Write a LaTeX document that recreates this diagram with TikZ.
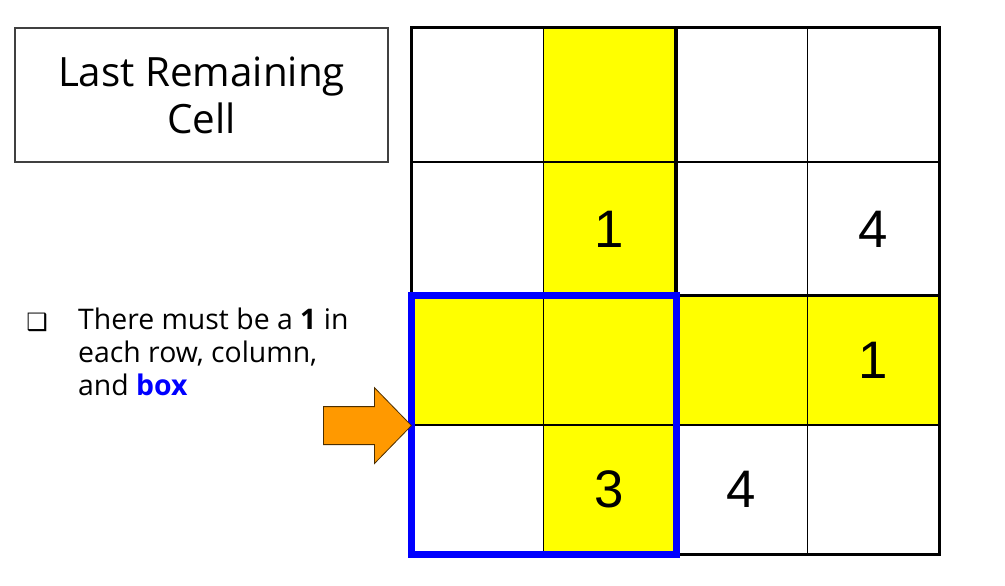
\documentclass[tikz,border=0pt]{standalone}
\usepackage{fontspec}
\setmainfont{Open Sans}
\newfontfamily\digitfont{Liberation Sans}
\newfontfamily\symfont{DejaVu Sans}
\usetikzlibrary{positioning}
\definecolor{cellyellow}{RGB}{255,255,0}
\definecolor{boxblue}{RGB}{0,0,255}
\definecolor{arroworange}{RGB}{255,153,0}

\begin{document}
\begin{tikzpicture}[
        x=1bp, y=-1bp,
        cell/.style={draw=black, line width=1.2bp, minimum width=131.75bp, inner sep=0pt},
        yel1/.style={fill=cellyellow},
        yel0/.style={},
        given/.style={inner sep=0pt, font=\digitfont\fontsize{53}{53}\selectfont},
        thickline/.style={line width=3.5bp, line cap=rect},
        titlebox/.style={draw=black!75, line width=1.1bp, minimum width=373bp, minimum height=134bp, align=center, font=\fontsize{40.5}{47}\selectfont},
        bullettext/.style={align=left, inner sep=0pt, font=\fontsize{28.5}{33}\selectfont},
        blockarrow/.style={fill=arroworange, draw=black!70!arroworange, line width=0.8bp}
    ]
        \useasboundingbox (0,0) rectangle (1005,586);

        % Cells (column 2 and row 3 in yellow)
        \foreach \r/\y/\h in {1/95/134, 2/229/134, 3/360.5/129, 4/489.5/129}
            \foreach \c in {1,...,4}{
                \pgfmathtruncatemacro\yel{(\c==2)||(\r==3)}
                \node[cell, yel\yel, minimum height=\h bp] (c\r\c) at ({412+131.75*(\c-0.5)}, \y) {};
            }

        % Givens
        \node[given] (g1) at (c22) {1};
        \node[given] (g2) at (c24) {4};
        \node[given] (g3) at (c34) {1};
        \node[given] (g4) at (c42) {3};
        \node[given] (g5) at (c43) {4};

        % Box borders
        \draw[thickline] (c11.north west) rectangle (c44.south east);
        \draw[thickline] (c12.north east) -- (c42.south east);
        \draw[thickline] (c31.north west) -- (c34.north east);

        % Highlighted box
        \draw[boxblue, line width=7bp] (c31.north west) rectangle (c42.south east);

        % Title
        \node[titlebox] (title) at (201.5,95) {Last Remaining\\Cell};

        % Bullet
        \node[inner sep=0pt, font=\symfont\fontsize{24}{24}\selectfont] (mark) at (37,322) {❑};
        \node[bullettext, anchor=north west] (rule) at (78,308) {There must be a \textbf{1} in\\each row, column,\\and \textcolor{boxblue}{\textbf{box}}};

        % Pointer arrow
        \coordinate (tip) at (c31.south west);
        \draw[blockarrow] ([xshift=-88bp, yshift=-19bp]tip) -- ([xshift=-37bp, yshift=-19bp]tip)
            -- ([xshift=-37bp, yshift=-38bp]tip) -- (tip)
            -- ([xshift=-37bp, yshift=38bp]tip) -- ([xshift=-37bp, yshift=19bp]tip)
            -- ([xshift=-88bp, yshift=19bp]tip) -- cycle;
\end{tikzpicture}
\end{document}
